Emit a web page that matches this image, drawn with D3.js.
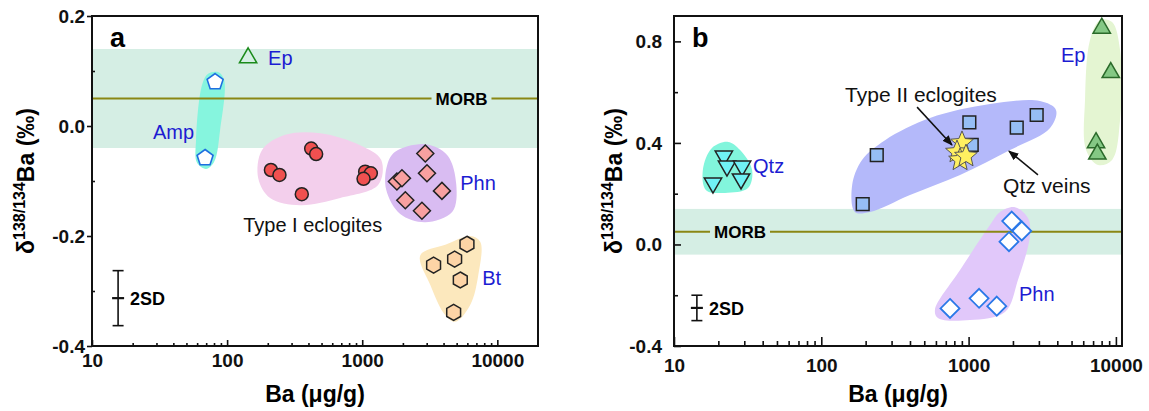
<!DOCTYPE html>
<html>
<head>
<meta charset="utf-8">
<script src="https://cdn.jsdelivr.net/npm/d3@7"></script>
<style>
  body { margin: 0; background: #fff; }
  svg { display: block; font-family: Arial, "Liberation Sans", sans-serif; }
</style>
</head>
<body>
<svg id="chart" width="1149" height="411"></svg>
<script>
// ---- data: [Ba (ug/g), d138/134Ba (permil)] ----
const xTickValues = [10, 100, 1000, 10000];
const xTickLabels = ['10', '100', '1000', '10000'];
const yTicksA = [-0.4, -0.2, 0.0, 0.2];
const yLabelsA = ['-0.4', '-0.2', '0.0', '0.2'];
const yMinorA = [-0.3, -0.1, 0.1];
const yTicksB = [-0.4, 0.0, 0.4, 0.8];
const yLabelsB = ['-0.4', '0.0', '0.4', '0.8'];
const yMinorB = [-0.2, 0.2, 0.6];

const morbBand = [-0.04, 0.14];
const morbValue = 0.05;
const twoSD = 0.05;

// panel a
const epA = [[143, 0.124]];
const ampA = [[81.5, 0.080], [68.7, -0.058]];
const typeI = [[211, -0.080], [244, -0.089], [419, -0.041], [456, -0.051], [357, -0.124],
               [1052, -0.083], [1158, -0.086], [1023, -0.096]];
const phnA = [[2930, -0.050], [3015, -0.086], [1806, -0.101], [1968, -0.095], [3890, -0.118],
              [2084, -0.135], [2767, -0.154]];
const btA = [[5960, -0.215], [4830, -0.242], [3375, -0.253], [5320, -0.280], [4750, -0.339]];

const ampHull = [[65.3, 0.075], [72.3, 0.095], [85.7, 0.098], [95.0, 0.084], [88.8, -0.007],
                 [80.2, -0.065], [69.9, -0.078], [59.9, -0.067], [58.9, -0.025]];
const typeIHull = [[181, -0.044], [269, -0.016], [489, -0.013], [966, -0.035], [1383, -0.062],
                   [1315, -0.107], [687, -0.131], [347, -0.144], [208, -0.131], [170, -0.095]];
const phnAHull = [[1754, -0.047], [2930, -0.033], [4265, -0.053], [4970, -0.107], [4645, -0.156],
                  [2930, -0.175], [1911, -0.160], [1505, -0.116], [1531, -0.071]];
const btHull = [[2692, -0.235], [4121, -0.216], [6310, -0.200], [7485, -0.211], [7230, -0.271],
                [6310, -0.325], [4885, -0.356], [4121, -0.344], [3192, -0.289]];

// panel b
const qtz = [[21.8, 0.348], [22.9, 0.309], [29.0, 0.309], [28.5, 0.258], [18.4, 0.242]];
const qtzVeins = [[2898, 0.510], [2122, 0.460], [1012, 0.481], [1050, 0.392], [238, 0.352], [191, 0.159]];
const typeII = [[902, 0.400], [834, 0.364], [875, 0.333], [960, 0.348]];
const epB = [[8017, 0.852], [9230, 0.677], [7329, 0.401], [7483, 0.356]];
const phnB = [[1963, 0.092], [2296, 0.053], [1880, 0.011], [748, -0.252], [1178, -0.212], [1553, -0.243]];

const qtzHull = [[18.1, 0.380], [23.3, 0.404], [28.1, 0.372], [33.9, 0.293], [31.8, 0.222],
                 [22.2, 0.203], [16.5, 0.214], [15.7, 0.293]];
const veinHull = [[169, 0.128], [162, 0.234], [189, 0.333], [271, 0.411], [547, 0.498], [1396, 0.553],
                  [3052, 0.565], [3920, 0.530], [3572, 0.459], [1910, 0.372], [875, 0.274], [400, 0.195], [214, 0.128]];
const epBHull = [[6670, 0.805], [7800, 0.884], [9420, 0.876], [10670, 0.766], [10670, 0.490],
                 [9420, 0.333], [7560, 0.313], [6270, 0.372], [6170, 0.569]];
const phnBHull = [[1634, 0.128], [2065, 0.147], [2530, 0.104], [2611, 0.037], [2163, -0.140],
                  [1766, -0.266], [1022, -0.298], [619, -0.290], [591, -0.258], [875, -0.101], [1396, 0.077]];

const svg = d3.select('#chart');
const BLUE_TEXT = '#1c1cd2';

// regular polygon path centred at 0,0 (first vertex at angle a0)
function ngon(n, r, a0) {
    const pts = d3.range(n).map(i => {
        const a = a0 + i * 2 * Math.PI / n;
        return [r * Math.cos(a), r * Math.sin(a)];
    });
    return 'M' + pts.map(p => p.join(',')).join('L') + 'Z';
}
function star(r) {
    const pts = d3.range(10).map(i => {
        const rr = i % 2 ? r * 0.45 : r;
        const a = -Math.PI / 2 + i * Math.PI / 5;
        return [rr * Math.cos(a), rr * Math.sin(a)];
    });
    return 'M' + pts.map(p => p.join(',')).join('L') + 'Z';
}
const UP = -Math.PI / 2;
const shapes = {
    circle: d3.symbol().type(d3.symbolCircle).size(Math.PI * 6.5 * 6.5)(),
    diamondA: ngon(4, 8.5, UP),
    diamondB: ngon(4, 9.5, UP),
    hexagon: ngon(6, 8, UP),
    pentagon: ngon(5, 8.4, UP),
    triUp: ngon(3, 10, UP),
    triDown: ngon(3, 10, Math.PI / 2),
    square: ngon(4, 9, -Math.PI / 4),
    star: star(12)
};

function makePanel(cfg) {
    const g = svg.append('g').attr('transform', `translate(${cfg.left},${cfg.top})`);
    const x = d3.scaleLog().domain(cfg.xDomain).range([0, cfg.width]);
    const y = d3.scaleLinear().domain(cfg.yDomain).range([cfg.height, 0]);

    const clip = 'clip-' + cfg.name;
    g.append('clipPath').attr('id', clip).append('rect')
        .attr('width', cfg.width).attr('height', cfg.height);
    const plot = g.append('g').attr('clip-path', `url(#${clip})`);

    // MORB band
    plot.append('rect')
        .attr('x', 0).attr('width', cfg.width)
        .attr('y', y(morbBand[1])).attr('height', y(morbBand[0]) - y(morbBand[1]))
        .attr('fill', '#d5eee4');

    const hullLine = d3.line()
        .x(d => x(d[0])).y(d => y(d[1]))
        .curve(d3.curveCatmullRomClosed.alpha(0.5));
    cfg.hulls.forEach(h => {
        plot.append('path').attr('d', hullLine(h.data)).attr('fill', h.color);
    });

    // MORB line with gap for label
    const my = y(morbValue);
    const lbl = g.append('text')
        .attr('x', cfg.morbX).attr('y', my + 6)
        .attr('text-anchor', 'middle')
        .attr('font-size', 17).attr('font-weight', 'bold')
        .text('MORB');
    const tw = lbl.node().getComputedTextLength();
    [[0, cfg.morbX - tw / 2 - 4], [cfg.morbX + tw / 2 + 4, cfg.width]].forEach(seg => {
        plot.append('line')
            .attr('x1', seg[0]).attr('x2', seg[1]).attr('y1', my).attr('y2', my)
            .attr('stroke', '#8a8714').attr('stroke-width', 2);
    });

    // arrows (under markers)
    (cfg.arrows || []).forEach(a => {
        g.append('line')
            .attr('x1', x(a[0][0])).attr('y1', y(a[0][1]))
            .attr('x2', x(a[1][0])).attr('y2', y(a[1][1]))
            .attr('stroke', '#111').attr('stroke-width', 1.5)
            .attr('marker-end', 'url(#arrowhead)');
    });

    // markers
    cfg.series.forEach(s => {
        g.selectAll(null).data(s.data).enter().append('path')
            .attr('d', shapes[s.shape])
            .attr('transform', d => `translate(${x(d[0])},${y(d[1])})`)
            .attr('fill', s.fill).attr('stroke', s.stroke)
            .attr('stroke-width', s.sw || 1.5);
    });

    // 2SD error bar
    const ex = x(cfg.errX), ey0 = y(cfg.errY - twoSD), ey1 = y(cfg.errY + twoSD), ec = y(cfg.errY);
    const eb = g.append('g').attr('stroke', '#111').attr('stroke-width', 1.6);
    eb.append('line').attr('x1', ex).attr('x2', ex).attr('y1', ey0).attr('y2', ey1);
    [ey0, ey1].forEach(v => eb.append('line').attr('x1', ex - 5.5).attr('x2', ex + 5.5).attr('y1', v).attr('y2', v));
    eb.append('line').attr('x1', ex - 6).attr('x2', ex + 6).attr('y1', ec).attr('y2', ec).attr('stroke-width', 2.2);
    g.append('text').attr('x', ex + 12).attr('y', ec + 7)
        .attr('font-size', 18).attr('font-weight', 'bold').text('2SD');

    // text labels
    cfg.labels.forEach(l => {
        g.append('text')
            .attr('x', x(l.at[0])).attr('y', y(l.at[1]))
            .attr('font-size', l.size || 20)
            .attr('fill', l.color || '#111')
            .text(l.text);
    });
    g.append('text').attr('x', 18).attr('y', 31)
        .attr('font-size', 27).attr('font-weight', 'bold').text(cfg.name);

    // axes
    const minorX = [];
    [10, 100, 1000].forEach(dec => d3.range(2, 10).forEach(k => {
        const v = dec * k;
        if (v < cfg.xDomain[1]) minorX.push(v);
    }));
    const styleAxis = sel => {
        sel.select('.domain').remove();
        sel.selectAll('line').attr('stroke', '#111').attr('stroke-width', 1.6);
        sel.selectAll('text').attr('font-size', 19).attr('font-weight', 'bold').attr('fill', '#111')
            .attr('font-family', 'Arial, "Liberation Sans", sans-serif');
    };
    g.append('g').attr('transform', `translate(0,${cfg.height})`)
        .call(d3.axisBottom(x).tickValues(xTickValues)
            .tickFormat((d, i) => xTickLabels[i])
            .tickSize(-cfg.xMajor).tickPadding(cfg.xPad))
        .call(styleAxis);
    g.append('g').attr('transform', `translate(0,${cfg.height})`)
        .call(d3.axisBottom(x).tickValues(minorX).tickFormat('').tickSize(-cfg.xMinor))
        .call(styleAxis);
    g.append('g')
        .call(d3.axisLeft(y).tickValues(cfg.yTicks)
            .tickFormat((d, i) => cfg.yLabels[i])
            .tickSize(cfg.yMajor).tickPadding(cfg.yPad))
        .call(styleAxis);
    g.append('g')
        .call(d3.axisLeft(y).tickValues(cfg.yMinor).tickFormat('').tickSize(-cfg.yMinorLen))
        .call(styleAxis);

    // frame
    g.append('rect').attr('width', cfg.width).attr('height', cfg.height)
        .attr('fill', 'none').attr('stroke', '#111').attr('stroke-width', 2);

    // axis titles
    g.append('text')
        .attr('x', cfg.width / 2).attr('y', cfg.height + 56)
        .attr('text-anchor', 'middle').attr('font-size', 23).attr('font-weight', 'bold')
        .text('Ba (\u03bcg/g)');
    const yt = g.append('text')
        .attr('transform', `translate(${cfg.yTitleX},${cfg.height / 2}) rotate(-90)`)
        .attr('text-anchor', 'middle').attr('font-size', 23).attr('font-weight', 'bold');
    yt.append('tspan').text('\u03b4');
    yt.append('tspan').attr('font-size', 16).attr('dy', -9).text('138/134');
    yt.append('tspan').attr('dy', 9).text('Ba (\u2030)');
}

// arrowhead marker
svg.append('defs').append('marker')
    .attr('id', 'arrowhead').attr('viewBox', '0 0 10 10')
    .attr('refX', 9).attr('refY', 5)
    .attr('markerWidth', 7).attr('markerHeight', 7)
    .attr('orient', 'auto')
    .append('path').attr('d', 'M0,1L10,5L0,9Z').attr('fill', '#111');

makePanel({
    name: 'a', left: 92, top: 16, width: 446, height: 330,
    xDomain: [10, 20000], yDomain: [-0.4, 0.2],
    yTicks: yTicksA, yLabels: yLabelsA, yMinor: yMinorA,
    xMajor: 6, xMinor: 3, xPad: 8,
    yMajor: 5, yMinorLen: 3, yPad: 2, yTitleX: -58,
    morbX: 369.5,
    errX: 15.6, errY: -0.313,
    hulls: [
        { data: ampHull, color: '#86f5de' },
        { data: typeIHull, color: '#f3cfec' },
        { data: phnAHull, color: '#d9bcf2' },
        { data: btHull, color: '#fce8bd' }
    ],
    series: [
        { data: epA, shape: 'triUp', fill: 'none', stroke: '#1a8a1a' },
        { data: ampA, shape: 'pentagon', fill: '#fff', stroke: '#1f6fe0', sw: 1.6 },
        { data: typeI, shape: 'circle', fill: '#f05050', stroke: '#222' },
        { data: phnA, shape: 'diamondA', fill: '#f8a0a0', stroke: '#222' },
        { data: btA, shape: 'hexagon', fill: '#fdd4a6', stroke: '#222' }
    ],
    labels: [
        { text: 'Ep', at: [201, 0.111], color: BLUE_TEXT },
        { text: 'Amp', at: [28.3, -0.024], color: BLUE_TEXT },
        { text: 'Phn', at: [5320, -0.116], color: BLUE_TEXT },
        { text: 'Type I eclogites', at: [131.5, -0.193] },
        { text: 'Bt', at: [7740, -0.289], color: BLUE_TEXT }
    ]
});

makePanel({
    name: 'b', left: 674, top: 16, width: 448, height: 330,
    xDomain: [10, 11000], yDomain: [-0.4, 0.9],
    yTicks: yTicksB, yLabels: yLabelsB, yMinor: yMinorB,
    xMajor: 9, xMinor: 5, xPad: 13,
    yMajor: -7, yMinorLen: 4, yPad: 12, yTitleX: -52,
    morbX: 66,
    errX: 14.3, errY: -0.25,
    hulls: [
        { data: qtzHull, color: '#82f5dc' },
        { data: veinHull, color: '#b4b9fa' },
        { data: epBHull, color: '#e4f5d2' },
        { data: phnBHull, color: '#e1c8fa' }
    ],
    arrows: [
        [[447, 0.541], [771, 0.392]],
        [[2958, 0.274], [1880, 0.368]]
    ],
    series: [
        { data: qtz, shape: 'triDown', fill: '#70f2f6', stroke: '#222' },
        { data: qtzVeins, shape: 'square', fill: '#96bef5', stroke: '#222' },
        { data: typeII, shape: 'star', fill: '#fff060', stroke: '#555', sw: 1 },
        { data: epB, shape: 'triUp', fill: '#84c884', stroke: '#2a6a2a' },
        { data: phnB, shape: 'diamondB', fill: '#fff', stroke: '#2a78e8', sw: 1.8 }
    ],
    labels: [
        { text: 'Qtz', at: [34.4, 0.281], color: BLUE_TEXT },
        { text: 'Type II eclogites', at: [145, 0.561], size: 21 },
        { text: 'Qtz veins', at: [1714, 0.203], size: 21 },
        { text: 'Ep', at: [4236, 0.719], color: BLUE_TEXT },
        { text: 'Phn', at: [2198, -0.223], color: BLUE_TEXT }
    ]
});
</script>
</body>
</html>
